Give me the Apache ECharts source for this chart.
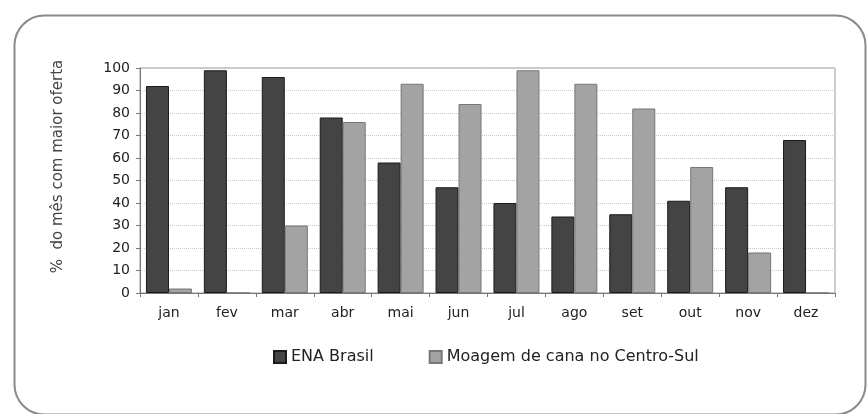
<!DOCTYPE html>
<html>
<head>
<meta charset="utf-8">
<script src="https://cdn.jsdelivr.net/npm/echarts@6/dist/echarts.min.js"></script>
<style>
  html, body { margin: 0; padding: 0; background: #fff; }
  #chart { width: 867px; height: 414px; }
</style>
</head>
<body>
<div id="chart"></div>
<script>
var months = ['jan', 'fev', 'mar', 'abr', 'mai', 'jun', 'jul', 'ago', 'set', 'out', 'nov', 'dez'];
var enaBrasil = [92, 99, 96, 78, 58, 47, 40, 34, 35, 41, 47, 68];
var moagemCana = [2, 0, 30, 76, 93, 84, 99, 93, 82, 56, 18, 0];

var chart = echarts.init(document.getElementById('chart'));

var font = 'DejaVu Sans, Verdana, sans-serif';

var option = {
    backgroundColor: '#fff',
    animation: false,
    textStyle: { fontFamily: font },
    graphic: [{
        type: 'rect',
        left: 12, top: 13,
        shape: { width: 851, height: 399, r: 30 },
        style: { fill: 'none', stroke: '#8a8a8a', lineWidth: 2 },
        silent: true
    }],
    legend: {
        top: 344,
        left: 268,
        icon: 'rect',
        itemWidth: 12,
        itemHeight: 12,
        itemGap: 55,
        textStyle: { fontFamily: font, fontSize: 16, color: '#222' },
        data: ['ENA Brasil', 'Moagem de cana no Centro-Sul']
    },
    grid: {
        left: 140, right: 32, top: 68, bottom: 121,
        show: true,
        borderColor: '#999',
        borderWidth: 1
    },
    xAxis: {
        type: 'category',
        data: months,
        axisLine: { lineStyle: { color: '#777' } },
        axisTick: { show: true, length: 4, lineStyle: { color: '#777' } },
        axisLabel: { color: '#222', fontSize: 14, margin: 13, fontFamily: font }
    },
    yAxis: {
        type: 'value',
        min: 0, max: 100, interval: 10,
        name: '%  do mês com maior oferta',
        nameLocation: 'middle',
        nameGap: 74,
        nameTextStyle: { color: '#444', fontSize: 15, fontFamily: font, padding: [0, 0, 0, 28] },
        axisLine: { show: true, lineStyle: { color: '#777' } },
        axisTick: { show: true, length: 4, lineStyle: { color: '#777' } },
        axisLabel: { color: '#222', fontSize: 14, margin: 10, fontFamily: font },
        splitLine: { lineStyle: { color: '#c8c8c8', type: 'dotted' } }
    },
    series: [
        {
            name: 'ENA Brasil',
            type: 'bar',
            data: enaBrasil,
            barWidth: 23,
            barGap: '0%',
            itemStyle: { color: '#444', borderColor: '#1a1a1a', borderWidth: 1 }
        },
        {
            name: 'Moagem de cana no Centro-Sul',
            type: 'bar',
            data: moagemCana,
            barWidth: 23,
            itemStyle: { color: '#a3a3a3', borderColor: '#777', borderWidth: 1 }
        }
    ]
};

chart.setOption(option);
</script>
</body>
</html>
